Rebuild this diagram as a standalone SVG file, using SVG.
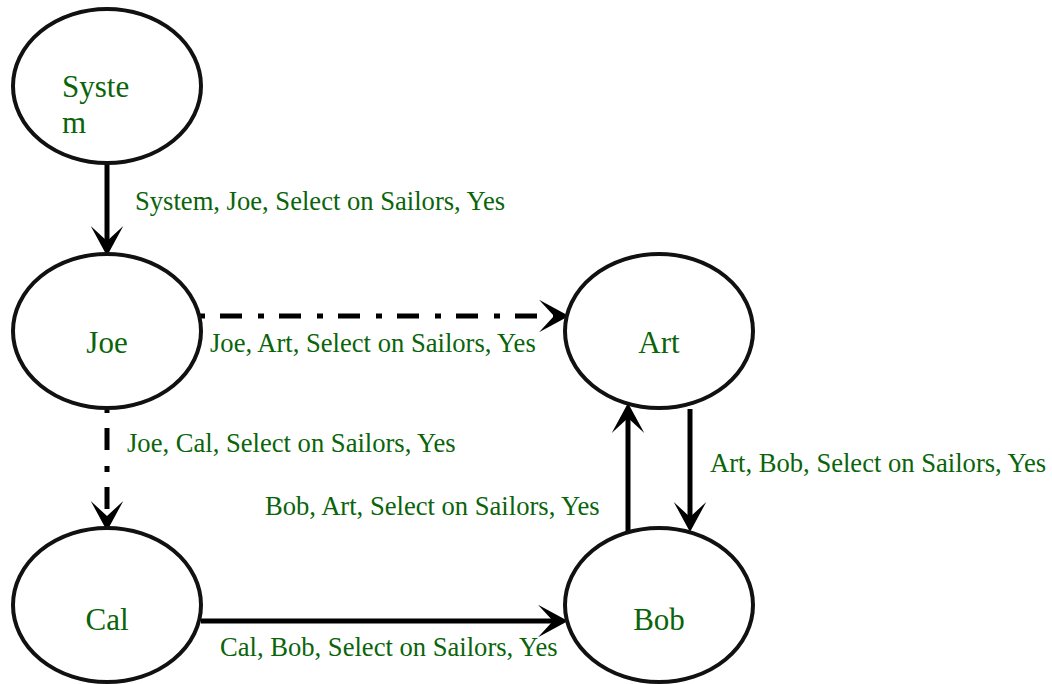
<svg xmlns="http://www.w3.org/2000/svg" width="1052" height="684" viewBox="0 0 1052 684">
<defs>
<style>
.node ellipse{fill:#fff;stroke:#111;stroke-width:4}
.node text{font-family:"Liberation Serif","Times New Roman",serif;font-size:31px;fill:#0a640a}
.lbl{font-family:"Liberation Serif","Times New Roman",serif;font-size:26.6px;fill:#0a640a}
.edge{stroke:#000;stroke-width:5;fill:none;marker-end:url(#arr)}
.dd{stroke-dasharray:22 16 6 15}
</style>
<marker id="arr" markerUnits="userSpaceOnUse" markerWidth="40" markerHeight="40" viewBox="-14 -16 30 32" refX="0" refY="0" orient="auto">
<path d="M12,0 L-12,-13 L0,0 L-12,13 Z" fill="#000"/>
</marker>
</defs>
<rect width="1052" height="684" fill="#fff"/>
<g id="connectors">
<line class="edge" x1="107" y1="163" x2="107" y2="241"/>
<line class="edge dd" x1="198" y1="316" x2="554" y2="316" stroke-dashoffset="37"/>
<line class="edge dd" x1="107" y1="410" x2="107" y2="516" stroke-dashoffset="41"/>
<line class="edge" x1="201" y1="621" x2="553" y2="621"/>
<line class="edge" x1="628" y1="532" x2="628" y2="418"/>
<line class="edge" x1="690" y1="409" x2="690" y2="517"/>
<text class="lbl" x="135" y="210">System, Joe, Select on Sailors, Yes</text>
<text class="lbl" x="210" y="352">Joe, Art, Select on Sailors, Yes</text>
<text class="lbl" x="127" y="452">Joe, Cal, Select on Sailors, Yes</text>
<text class="lbl" x="265" y="515">Bob, Art, Select on Sailors, Yes</text>
<text class="lbl" x="710" y="472">Art, Bob, Select on Sailors, Yes</text>
<text class="lbl" x="220" y="656">Cal, Bob, Select on Sailors, Yes</text>
</g>
<g id="node-system" class="node">
<ellipse cx="107" cy="86" rx="94" ry="77"/>
<text x="62" y="97">Syste</text>
<text x="62" y="133">m</text>
</g>
<g id="node-joe" class="node">
<ellipse cx="107" cy="331" rx="94" ry="77"/>
<text x="107" y="353" text-anchor="middle">Joe</text>
</g>
<g id="node-cal" class="node">
<ellipse cx="107" cy="605" rx="94" ry="77"/>
<text x="107" y="630" text-anchor="middle">Cal</text>
</g>
<g id="node-art" class="node">
<ellipse cx="659" cy="331" rx="94" ry="77"/>
<text x="659" y="353" text-anchor="middle">Art</text>
</g>
<g id="node-bob" class="node">
<ellipse cx="659" cy="605" rx="94" ry="77"/>
<text x="659" y="630" text-anchor="middle">Bob</text>
</g>
</svg>
